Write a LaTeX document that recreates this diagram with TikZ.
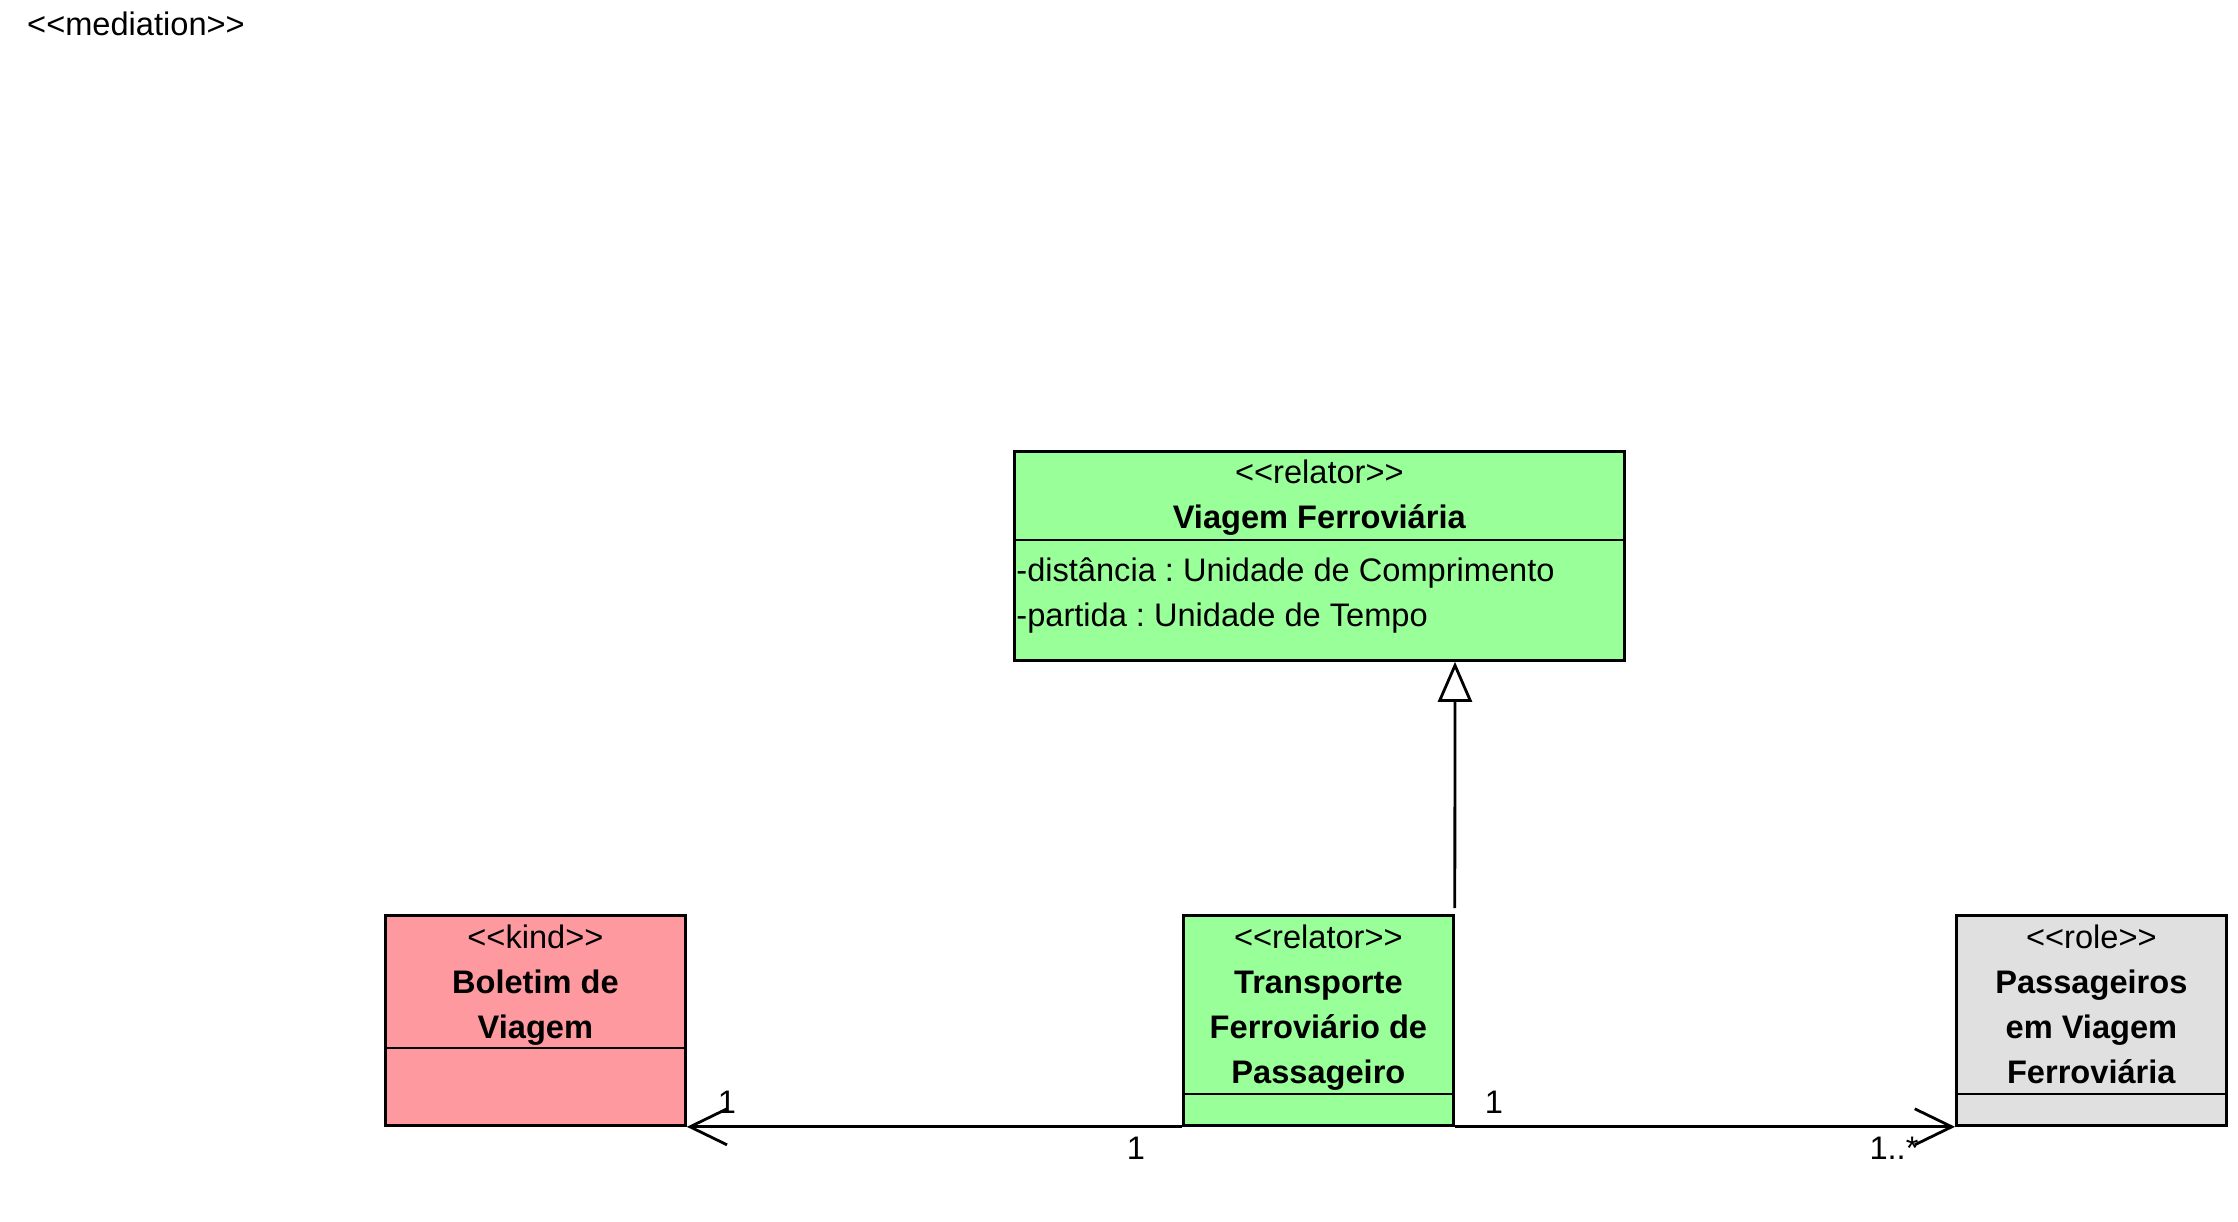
\documentclass[tikz,border=0pt]{standalone}
\usepackage{fontspec}
\setmainfont{Liberation Sans}[Ligatures=TeXOff]
\usepackage{xcolor}
\usetikzlibrary{arrows.meta,calc,positioning}
\frenchspacing
\definecolor{relatorgreen}{RGB}{153,255,153}
\definecolor{kindpink}{RGB}{255,153,160}
\definecolor{rolegray}{RGB}{224,224,224}
\tikzset{%
	classbox/.style  = {draw, rectangle, line width=1.4pt, inner sep=0pt, anchor=north west, minimum width=135pt, minimum height=105pt},
	classtext/.style = {anchor=north, inner sep=0pt, align=center, font=\fontsize{16.3}{22.5}\selectfont},
	attrtext/.style  = {anchor=north west, inner sep=0pt, align=left, font=\fontsize{16.3}{22.5}\selectfont},
	mult/.style      = {inner sep=0pt, font=\fontsize{16.3}{19}\selectfont},
	divider/.style   = {line width=1.4pt},
	assoc/.style     = {line width=1.4pt, -{Straight Barb[length=18.5pt,width=18pt]}},
	general/.style   = {line width=1.4pt, -{Triangle[open,length=20pt,width=17pt]}},
}
\begin{document}
\begin{tikzpicture}[x=0.5pt,y=-0.5pt]
	\useasboundingbox (0,0) rectangle (2238,1221);
	\node[mult] (medlabel) at (136,24) {<<mediation>>};
	
	% class boxes
	\node[classbox, fill=relatorgreen, minimum width=305pt, minimum height=104.5pt] (viagem) at (1013,450) {};
	\node[classbox, fill=kindpink, minimum width=150pt] (boletim) at (384,914) {};
	\node[classbox, fill=relatorgreen] (transporte) at (1182,914) {};
	\node[classbox, fill=rolegray] (passageiros) at (1955,914) {};
	
	\draw[divider] ([yshift=-45pt]viagem.north west) -- ([yshift=-45pt]viagem.north east);
	\draw[divider] ([yshift=-67pt]boletim.north west) -- ([yshift=-67pt]boletim.north east);
	\draw[divider] ([yshift=-90pt]transporte.north west) -- ([yshift=-90pt]transporte.north east);
	\draw[divider] ([yshift=-90pt]passageiros.north west) -- ([yshift=-90pt]passageiros.north east);
	
	\node[classtext] (viagemname) at ([yshift=-4.8pt]viagem.north) {<<relator>>\\ \textbf{Viagem Ferroviária}};
	\node[attrtext] (viagemattr) at ([xshift=1.5pt,yshift=-53.8pt]viagem.north west) {-distância : Unidade de Comprimento\\ -partida : Unidade de Tempo};
	\node[classtext] (boletimname) at ([yshift=-5.2pt]boletim.north) {<<kind>>\\ \textbf{Boletim de}\\ \textbf{Viagem}};
	\node[classtext] (transportename) at ([yshift=-5.2pt]transporte.north) {<<relator>>\\ \textbf{Transporte}\\ \textbf{Ferroviário de}\\ \textbf{Passageiro}};
	\node[classtext] (passageirosname) at ([yshift=-5.2pt]passageiros.north) {<<role>>\\ \textbf{Passageiros}\\ \textbf{em Viagem}\\ \textbf{Ferroviária}};
	
	% connectors
	\draw[general] ([yshift=3pt]transporte.north east) -- ([xshift=221pt]viagem.south west);
	\draw[assoc] (transporte.south west) -- (boletim.south east);
	\draw[assoc] (transporte.south east) -- (passageiros.south west);
	
	\node[mult] (multboletim) at (727,1102) {1};
	\node[mult] (multtranspA) at (1136,1148) {1};
	\node[mult] (multtranspB) at (1494,1102) {1};
	\node[mult] (multpassag) at (1894,1148) {1..*};
\end{tikzpicture}
\end{document}
